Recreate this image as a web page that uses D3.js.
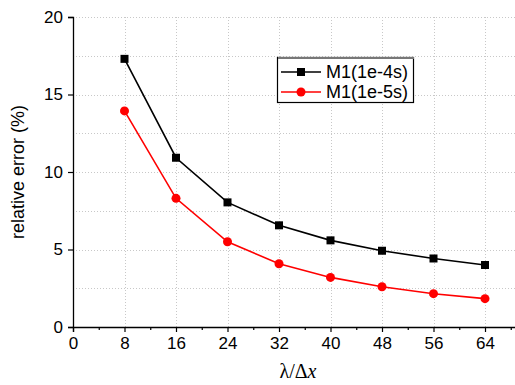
<!DOCTYPE html>
<html>
<head>
<meta charset="utf-8">
<script src="https://cdn.jsdelivr.net/npm/d3@7"></script>
<style>
  body { margin: 0; background: #fff; }
  svg { display: block; font-family: "Liberation Sans", Arial, sans-serif; }
</style>
</head>
<body>
<svg id="chart" width="515" height="385"></svg>
<script>
// resolution (points per wavelength)
const ppw = [8, 16, 24, 32, 40, 48, 56, 64];
const errDt4 = [17.3, 10.92, 8.04, 6.56, 5.59, 4.92, 4.42, 4.0];
const errDt5 = [13.94, 8.3, 5.5, 4.08, 3.2, 2.6, 2.15, 1.83];
const seriesNames = ["M1(1e-4s)", "M1(1e-5s)"];
const xTicks = [0, 8, 16, 24, 32, 40, 48, 56, 64];
const yTicks = [0, 5, 10, 15, 20];

const svg = d3.select("#chart");
const mLeft = 73, mTop = 17, mBottom = 327;

const x = d3.scaleLinear().domain([0, 70]).range([mLeft, mLeft + 70 * 6.4375]);
const y = d3.scaleLinear().domain([0, 20]).range([mBottom, mTop]);

// grid
const grid = svg.append("g").attr("stroke", "#c8c8c8").attr("stroke-dasharray", "1,2").attr("stroke-width", 1);
grid.selectAll(".gy").data(d3.range(2.5, 20.1, 2.5)).enter().append("line")
    .attr("x1", mLeft).attr("x2", 515)
    .attr("y1", d => Math.round(y(d)) + 0.5).attr("y2", d => Math.round(y(d)) + 0.5);
grid.selectAll(".gx").data(xTicks.slice(1)).enter().append("line")
    .attr("y1", mTop).attr("y2", mBottom)
    .attr("x1", d => Math.round(x(d)) + 0.5).attr("x2", d => Math.round(x(d)) + 0.5);

// axes
svg.append("g").attr("transform", `translate(0,${mBottom})`)
    .call(d3.axisBottom(x).tickValues(xTicks).tickSize(5).tickPadding(5));
svg.append("g").attr("transform", `translate(0,${mBottom})`)
    .call(d3.axisBottom(x).tickValues(d3.range(4, 70, 8)).tickSize(3).tickFormat(""))
    .call(g => g.select(".domain").remove());
svg.append("g").attr("transform", `translate(${mLeft},0)`)
    .call(d3.axisLeft(y).tickValues(yTicks).tickSize(5).tickPadding(5));

svg.selectAll(".domain").attr("stroke", "#000").attr("stroke-width", 1.3);
svg.selectAll(".tick line").attr("stroke", "#000").attr("stroke-width", 1.2);
svg.selectAll(".tick text").attr("font-size", 17).attr("fill", "#000")
    .attr("font-family", "Liberation Sans, Arial, sans-serif");

// axis titles
svg.append("text")
    .attr("transform", `translate(24,${(mTop + mBottom) / 2}) rotate(-90)`)
    .attr("text-anchor", "middle").attr("font-size", 18).text("relative error (%)");
const xt = svg.append("text").attr("x", 298).attr("y", 378).attr("text-anchor", "middle")
    .attr("font-family", "Liberation Serif, Times New Roman, serif").attr("font-size", 20);
xt.append("tspan").text("λ/Δ");
xt.append("tspan").attr("font-style", "italic").text("x");

// series
const series = [
  { name: seriesNames[0], values: errDt4, color: "#000", shape: "square" },
  { name: seriesNames[1], values: errDt5, color: "#ff0000", shape: "circle" }
];
const line = d3.line().x((d, i) => x(ppw[i])).y(d => y(d));

series.forEach(s => {
  svg.append("path").datum(s.values).attr("d", line)
      .attr("fill", "none").attr("stroke", s.color).attr("stroke-width", 1.6);
  if (s.shape === "square") {
    svg.selectAll(null).data(s.values).enter().append("rect")
        .attr("x", (d, i) => x(ppw[i]) - 4).attr("y", d => y(d) - 4)
        .attr("width", 8).attr("height", 8).attr("fill", s.color);
  } else {
    svg.selectAll(null).data(s.values).enter().append("circle")
        .attr("cx", (d, i) => x(ppw[i])).attr("cy", d => y(d)).attr("r", 4.5)
        .attr("fill", s.color);
  }
});

// legend
const lg = svg.append("g").attr("transform", "translate(277,57)");
lg.append("rect").attr("x", 0.5).attr("y", 0.5).attr("width", 136).attr("height", 45)
    .attr("fill", "#fff").attr("stroke", "#000").attr("stroke-width", 1.2);
lg.append("line").attr("x1", 1).attr("x2", 137).attr("y1", 1).attr("y2", 1)
    .attr("stroke", "#777").attr("stroke-width", 2);
series.forEach((s, i) => {
  const yy = 15 + i * 20;
  lg.append("line").attr("x1", 4).attr("x2", 44).attr("y1", yy).attr("y2", yy)
      .attr("stroke", s.color).attr("stroke-width", 1.6);
  if (s.shape === "square") {
    lg.append("rect").attr("x", 20).attr("y", yy - 4).attr("width", 8).attr("height", 8).attr("fill", s.color);
  } else {
    lg.append("circle").attr("cx", 24).attr("cy", yy).attr("r", 4.5).attr("fill", s.color);
  }
  lg.append("text").attr("x", 49).attr("y", yy + 6).attr("font-size", 18).text(s.name);
});
</script>
</body>
</html>
